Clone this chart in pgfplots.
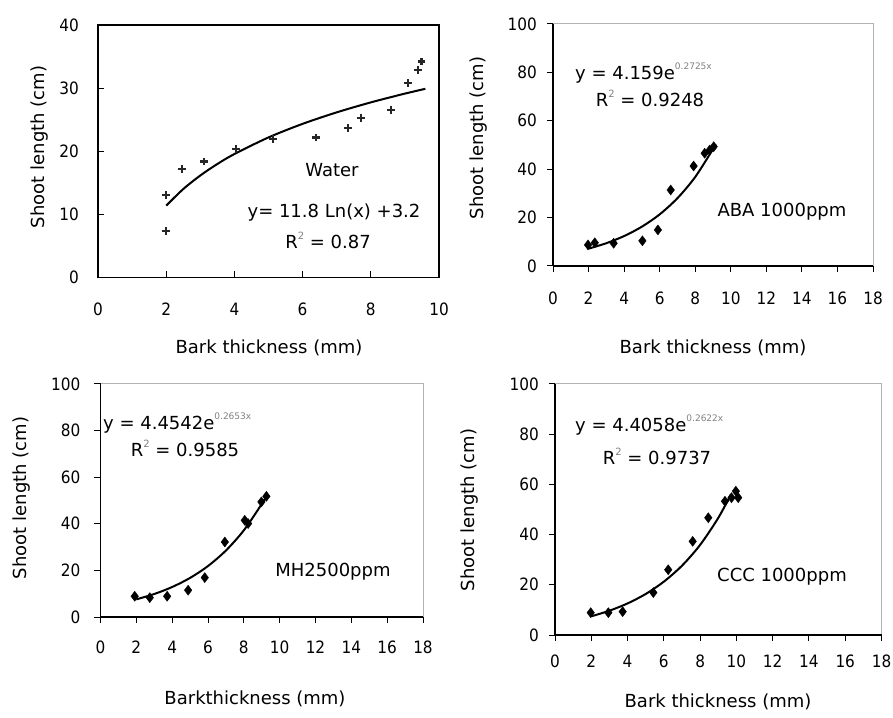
\documentclass[border=0pt]{standalone}
\usepackage{pgfplots}
\pgfplotsset{compat=1.18}
\usepackage{fontspec}
\setmainfont{DejaVu Sans}
\newfontfamily\condfont{DejaVu Sans Condensed}
\newcommand{\annfont}{\fontsize{18}{20}\selectfont}
\newcommand{\expo}[1]{\raisebox{0.55em}{\fontsize{9}{9}\selectfont\color{gray}#1}}
\newcommand{\sq}{\raisebox{0.5em}{\fontsize{10}{10}\selectfont\color{gray}2}}

\pgfplotsset{
  base/.style={scale only axis, anchor=south west,
    /pgf/number format/assume math mode=true,
    ticklabel style={font=\condfont\fontsize{17}{17}\selectfont, inner sep=0pt},
    xticklabel style={anchor=north}, yticklabel style={anchor=east},
    major tick length=6pt, tick style={black, line width=1pt},
    clip=false},
  excel/.style={axis lines=left, axis line style={-, black, line width=1.3pt},
    tick align=outside,
    axis background/.style={draw=gray!60, line width=1pt},
    xmin=0, xmax=18, ymin=0, ymax=100, xtick={0,2,...,18}, ytick={0,20,...,100}},
  trend/.style={black, line width=2pt, smooth, no markers},
  pts/.style={only marks, mark=diamond*, mark size=5pt, black},
}

\begin{document}
\begin{tikzpicture}[x=1pt, y=1pt]
\useasboundingbox (0pt,0pt) rectangle (893pt,717pt);

% ---------- Panel 1: Water ----------
\begin{axis}[base, at={(98pt,439.5pt)}, width=341pt, height=252.5pt,
  xmin=0, xmax=10, ymin=0, ymax=40, xtick={0,2,...,10}, ytick={0,10,...,40},
  tick align=inside, xtick pos=left, ytick pos=left,
  axis line style={line width=1.3pt},
  xticklabel shift=25pt, yticklabel shift=19pt]
\addplot[only marks, mark=+, mark size=3.8pt, black!85,
  mark options={line width=2.4pt}] coordinates {
 (2.0,13.1) (2.0,7.4) (2.47,17.2) (3.11,18.4) (4.05,20.4) (5.13,21.9)
 (6.40,22.2) (7.33,23.7) (7.72,25.3) (8.60,26.5) (9.09,30.8) (9.39,32.9) (9.49,34.2)};
\addplot[trend] coordinates {
 (2,11.38) (2.5,14.01) (3,16.16) (3.5,17.98) (4,19.56) (5,22.19) (6,24.34)
 (7,26.16) (8,27.74) (9,29.13) (9.6,29.89)};
\end{axis}

% ---------- Panel 2: ABA ----------
\begin{axis}[base, excel, at={(553pt,451pt)}, width=320pt, height=242pt,
  xticklabel shift=20pt, yticklabel shift=10pt]
\addplot[pts] coordinates {
 (1.97,8.7) (2.35,9.6) (3.41,9.4) (5.03,10.4) (5.9,14.9) (6.62,31.4)
 (7.91,41.3) (8.53,46.6) (8.81,47.9) (9.04,49.3)};
\addplot[trend] coordinates {
 (2,7.17) (3,9.42) (4,12.37) (5,16.25) (6,21.33) (7,28.02) (8,36.79) (9,48.32) (9.15,50.3)};
\end{axis}

% ---------- Panel 3: MH ----------
\begin{axis}[base, excel, at={(100.5pt,100pt)}, width=322.5pt, height=233pt,
  xticklabel shift=18pt, yticklabel shift=14pt]
\addplot[pts] coordinates {
 (1.91,8.9) (2.75,8.3) (3.72,8.9) (4.89,11.5) (5.82,16.9) (6.94,32.2)
 (8.05,41.5) (8.24,40.1) (8.98,49.4) (9.26,51.8)};
\addplot[trend] coordinates {
 (2,7.57) (3,9.87) (4,12.87) (5,16.78) (6,21.88) (7,28.53) (8,37.20) (9,48.50) (9.2,51.14)};
\end{axis}

% ---------- Panel 4: CCC ----------
\begin{axis}[base, excel, at={(555pt,82pt)}, width=326.5pt, height=251pt,
  xticklabel shift=14pt, yticklabel shift=10pt]
\addplot[pts] coordinates {
 (1.97,8.9) (2.94,8.9) (3.73,9.3) (5.42,16.9) (6.24,26.0) (7.59,37.3)
 (8.45,46.7) (9.37,53.3) (9.73,54.7) (9.97,57.3) (10.1,54.7)};
\addplot[trend] coordinates {
 (2,7.44) (3,9.68) (4,12.58) (5,16.34) (6,21.25) (7,27.61) (8,35.89) (9,46.65) (9.7,56.05)};
\end{axis}

% ---------- axis titles ----------
\begin{scope}[every node/.style={font=\annfont, inner sep=0pt}]
\node[rotate=90] at (40pt,570pt) {Shoot length (cm)};
\node[rotate=90] at (479pt,579pt) {Shoot length (cm)};
\node[rotate=90] at (22pt,219pt) {Shoot length (cm)};
\node[rotate=90] at (470pt,207pt) {Shoot length (cm)};
\node at (269pt,369pt) {Bark thickness (mm)};
\node at (713pt,369pt) {Bark thickness (mm)};
\node at (255pt,18pt) {Barkthickness (mm)};
\node at (718pt,15pt) {Bark thickness (mm)};

% ---------- annotations ----------
\node at (332pt,547pt) {Water};
\node at (334pt,504pt) {y= 11.8 Ln(x) +3.2};
\node at (328pt,477pt) {R\sq\ = 0.87};

\node[anchor=west] at (575pt,644pt) {y = 4.159e\expo{0.2725x}};
\node at (650pt,619pt) {R\sq\ = 0.9248};
\node at (782pt,505pt) {ABA 1000ppm};

\node[anchor=west] at (103pt,294pt) {y = 4.4542e\expo{0.2653x}};
\node at (185pt,269pt) {R\sq\ = 0.9585};
\node at (333pt,145pt) {MH2500ppm};

\node[anchor=west] at (575pt,292pt) {y = 4.4058e\expo{0.2622x}};
\node at (657pt,261pt) {R\sq\ = 0.9737};
\node at (782pt,140pt) {CCC 1000ppm};
\end{scope}
\end{tikzpicture}
\end{document}
